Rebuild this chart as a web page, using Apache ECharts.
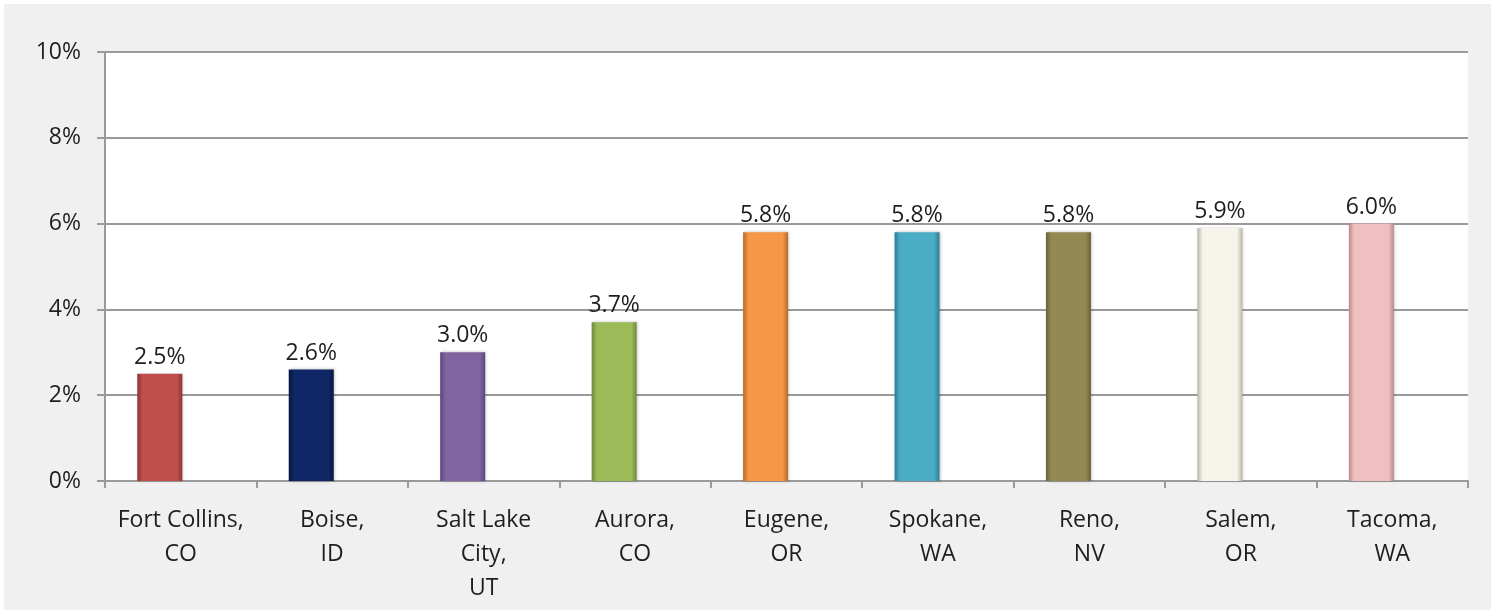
<!DOCTYPE html>
<html>
<head>
<meta charset="utf-8">
<script src="https://cdn.jsdelivr.net/npm/echarts@6/dist/echarts.min.js"></script>
<style>
  html, body { margin: 0; padding: 0; background: #fff; }
  #wrap { position: relative; width: 1491px; height: 610px; background: #fff; overflow: hidden; }
  #chart { position: absolute; left: 4px; top: 4px; width: 1487px; height: 606px; background: #f0f0f0; }
</style>
</head>
<body>
<div id="wrap"><div id="chart"></div></div>
<script>
var cities = ['Fort Collins,\nCO', 'Boise,\nID', 'Salt Lake\nCity,\nUT', 'Aurora,\nCO', 'Eugene,\nOR',
  'Spokane,\nWA', 'Reno,\nNV', 'Salem,\nOR', 'Tacoma,\nWA'];
var rates = [2.5, 2.6, 3.0, 3.7, 5.8, 5.8, 5.8, 5.9, 6.0];
// second (empty) series from the source sheet, it only takes space next to each bar
var emptySeries = [null, null, null, null, null, null, null, null, null];
var barColors = ['#c0504d', '#0f2766', '#8064a2', '#9bbb59', '#f79646', '#4bacc6', '#938953', '#f6f4ea', '#f0c0c0'];
var edgeColors = ['#8e3431', '#071640', '#5b4579', '#6f8a3c', '#b86a2c', '#2f7d92', '#6a6235', '#b9b6a8', '#b58b8b'];

var fontFam = '"Open Sans", Lato, sans-serif';
var chart = echarts.init(document.getElementById('chart'));

var data = rates.map(function (v, i) {
  return {
    value: v,
    itemStyle: {
      color: new echarts.graphic.LinearGradient(0, 0, 1, 0, [
        { offset: 0, color: edgeColors[i] },
        { offset: 0.12, color: barColors[i] },
        { offset: 0.88, color: barColors[i] },
        { offset: 1, color: edgeColors[i] }
      ]),
      shadowColor: 'rgba(0,0,0,0.25)',
      shadowBlur: 3,
      shadowOffsetX: 1,
      shadowOffsetY: 0
    }
  };
});

chart.setOption({
  animation: false,
  grid: { left: 101, right: 23, top: 48, bottom: 129, show: true, backgroundColor: '#ffffff', borderWidth: 0 },
  xAxis: {
    type: 'category',
    data: cities,
    axisLine: { lineStyle: { color: '#9a9a9a', width: 2 } },
    axisTick: { show: true, length: 7, lineStyle: { color: '#9a9a9a', width: 2 } },
    axisLabel: { color: '#1e1e1e', fontSize: 23, fontFamily: fontFam, lineHeight: 34, margin: 22, interval: 0 }
  },
  yAxis: {
    type: 'value',
    min: 0,
    max: 10,
    interval: 2,
    axisLine: { show: true, lineStyle: { color: '#9a9a9a', width: 2 } },
    axisTick: { show: true, length: 8, lineStyle: { color: '#9a9a9a', width: 2 } },
    splitLine: { lineStyle: { color: '#9a9a9a', width: 2 } },
    axisLabel: { color: '#1e1e1e', fontSize: 23, fontFamily: fontFam, margin: 24, formatter: '{value}%' }
  },
  series: [{
    type: 'bar',
    data: data,
    barWidth: 45,
    barGap: '-7%',
    label: {
      show: true,
      position: 'top',
      distance: 5,
      color: '#1e1e1e',
      fontSize: 23,
      fontFamily: fontFam,
      formatter: function (p) { return p.value.toFixed(1) + '%'; }
    }
  }, {
    type: 'bar',
    data: emptySeries,
    barWidth: 45,
    silent: true
  }]
});
</script>
</body>
</html>
